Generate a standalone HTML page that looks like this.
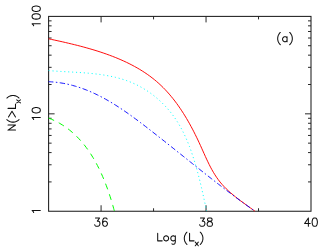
<!DOCTYPE html>
<html><head><meta charset="utf-8"><title>N(&gt;Lx) vs Log(Lx)</title>
<style>
html,body{margin:0;padding:0;background:#fff;font-family:"Liberation Sans",sans-serif;}
svg{display:block}
</style></head>
<body>
<svg width="327" height="249" viewBox="0 0 327 249">
<rect x="0" y="0" width="327" height="249" fill="#ffffff"/>
<rect x="48.60" y="16.40" width="262.40" height="194.85" fill="none" stroke="#1e1e1e" stroke-width="1.05"/>
<path d="M101.08 211.25 v-6.00 M101.08 16.40 v6.00 M153.56 211.25 v-3.00 M153.56 16.40 v3.00 M206.04 211.25 v-6.00 M206.04 16.40 v6.00 M258.52 211.25 v-3.00 M258.52 16.40 v3.00 M48.60 181.92 h3.00 M311.00 181.92 h-3.00 M48.60 164.77 h3.00 M311.00 164.77 h-3.00 M48.60 152.59 h3.00 M311.00 152.59 h-3.00 M48.60 143.15 h3.00 M311.00 143.15 h-3.00 M48.60 135.44 h3.00 M311.00 135.44 h-3.00 M48.60 128.92 h3.00 M311.00 128.92 h-3.00 M48.60 123.27 h3.00 M311.00 123.27 h-3.00 M48.60 118.28 h3.00 M311.00 118.28 h-3.00 M48.60 113.83 h6.00 M311.00 113.83 h-6.00 M48.60 84.50 h3.00 M311.00 84.50 h-3.00 M48.60 67.34 h3.00 M311.00 67.34 h-3.00 M48.60 55.17 h3.00 M311.00 55.17 h-3.00 M48.60 45.73 h3.00 M311.00 45.73 h-3.00 M48.60 38.01 h3.00 M311.00 38.01 h-3.00 M48.60 31.49 h3.00 M311.00 31.49 h-3.00 M48.60 25.84 h3.00 M311.00 25.84 h-3.00 M48.60 20.86 h3.00 M311.00 20.86 h-3.00" fill="none" stroke="#1e1e1e" stroke-width="0.95"/>
<path d="M48.60 70.60 C49.10 70.64 50.58 70.76 51.58 70.83 C52.57 70.91 53.57 70.98 54.57 71.05 C55.57 71.12 56.58 71.18 57.58 71.24 C58.59 71.31 59.60 71.37 60.61 71.43 C61.62 71.49 62.64 71.54 63.65 71.60 C64.67 71.66 65.68 71.71 66.70 71.77 C67.72 71.83 68.74 71.88 69.76 71.94 C70.79 72.00 71.81 72.05 72.83 72.11 C73.86 72.17 74.88 72.23 75.91 72.29 C76.93 72.35 77.96 72.42 78.98 72.49 C80.01 72.55 81.03 72.62 82.06 72.70 C83.08 72.77 84.11 72.85 85.13 72.93 C86.16 73.01 87.18 73.09 88.21 73.18 C89.23 73.27 90.25 73.37 91.27 73.47 C92.29 73.57 93.31 73.67 94.33 73.79 C95.35 73.90 96.37 74.02 97.38 74.14 C98.39 74.27 99.41 74.40 100.42 74.54 C101.43 74.68 102.44 74.83 103.44 74.98 C104.45 75.14 105.45 75.31 106.45 75.48 C107.45 75.65 108.45 75.84 109.44 76.03 C110.43 76.22 111.42 76.42 112.41 76.64 C113.40 76.85 114.38 77.07 115.36 77.31 C116.34 77.54 117.31 77.79 118.28 78.05 C119.25 78.31 120.22 78.58 121.18 78.86 C122.14 79.14 123.10 79.44 124.05 79.74 C125.00 80.05 125.94 80.37 126.88 80.71 C127.83 81.05 128.76 81.40 129.69 81.76 C130.62 82.13 131.54 82.50 132.46 82.90 C133.38 83.29 134.29 83.70 135.20 84.13 C136.10 84.56 137.00 85.00 137.89 85.45 C138.78 85.90 139.67 86.37 140.55 86.86 C141.43 87.34 142.30 87.84 143.16 88.35 C144.02 88.86 144.88 89.39 145.73 89.93 C146.57 90.46 147.42 91.02 148.25 91.58 C149.08 92.15 149.90 92.73 150.72 93.32 C151.53 93.91 152.34 94.51 153.14 95.13 C153.94 95.74 154.72 96.37 155.50 97.01 C156.28 97.65 157.05 98.30 157.81 98.96 C158.58 99.62 159.33 100.30 160.07 100.98 C160.81 101.67 161.54 102.37 162.26 103.07 C162.98 103.78 163.69 104.50 164.39 105.22 C165.09 105.95 165.78 106.69 166.46 107.44 C167.14 108.19 167.81 108.94 168.47 109.71 C169.12 110.48 169.77 111.25 170.40 112.04 C171.03 112.82 171.66 113.62 172.27 114.42 C172.88 115.23 173.47 116.04 174.06 116.86 C174.64 117.68 175.22 118.51 175.78 119.34 C176.34 120.18 176.89 121.02 177.42 121.87 C177.96 122.73 178.48 123.58 179.00 124.45 C179.51 125.32 180.01 126.19 180.51 127.07 C181.00 127.95 181.48 128.84 181.95 129.73 C182.42 130.62 182.88 131.52 183.33 132.43 C183.78 133.33 184.22 134.24 184.65 135.16 C185.08 136.08 185.51 137.00 185.92 137.93 C186.33 138.85 186.74 139.78 187.13 140.72 C187.53 141.66 187.92 142.60 188.30 143.55 C188.68 144.49 189.05 145.44 189.41 146.40 C189.78 147.35 190.14 148.31 190.49 149.27 C190.84 150.24 191.18 151.20 191.52 152.17 C191.85 153.14 192.18 154.11 192.51 155.09 C192.83 156.06 193.15 157.04 193.46 158.02 C193.78 159.00 194.09 159.99 194.39 160.97 C194.69 161.96 194.99 162.94 195.28 163.93 C195.57 164.92 195.86 165.91 196.15 166.90 C196.43 167.89 196.71 168.89 196.98 169.88 C197.26 170.88 197.53 171.87 197.79 172.87 C198.06 173.86 198.32 174.86 198.58 175.85 C198.84 176.85 199.09 177.85 199.34 178.84 C199.59 179.84 199.84 180.83 200.08 181.83 C200.33 182.82 200.57 183.82 200.81 184.81 C201.04 185.80 201.28 186.80 201.51 187.79 C201.74 188.78 201.97 189.77 202.19 190.75 C202.42 191.74 202.64 192.73 202.86 193.71 C203.08 194.70 203.30 195.68 203.51 196.66 C203.73 197.63 203.94 198.61 204.15 199.58 C204.36 200.56 204.57 201.53 204.78 202.50 C204.98 203.46 205.19 204.43 205.39 205.39 C205.60 206.35 205.80 207.30 206.00 208.25 C206.20 209.21 206.50 210.62 206.60 211.10" fill="none" stroke="#00ffff" stroke-width="0.95" stroke-dasharray="1.1 2.82" stroke-dashoffset="0"/>
<path d="M48.60 118.10 C49.09 118.30 50.56 118.87 51.52 119.27 C52.48 119.68 53.42 120.11 54.35 120.55 C55.28 120.99 56.20 121.45 57.11 121.93 C58.01 122.40 58.91 122.90 59.78 123.40 C60.66 123.91 61.53 124.43 62.38 124.97 C63.24 125.51 64.08 126.06 64.91 126.63 C65.73 127.19 66.55 127.78 67.35 128.37 C68.16 128.97 68.95 129.58 69.73 130.20 C70.51 130.82 71.27 131.46 72.03 132.11 C72.78 132.76 73.53 133.42 74.26 134.10 C74.99 134.77 75.71 135.46 76.42 136.16 C77.13 136.86 77.83 137.57 78.51 138.29 C79.20 139.01 79.88 139.75 80.54 140.49 C81.21 141.24 81.86 141.99 82.50 142.76 C83.15 143.52 83.78 144.30 84.40 145.08 C85.02 145.87 85.64 146.67 86.24 147.47 C86.84 148.27 87.43 149.09 88.01 149.91 C88.59 150.73 89.16 151.56 89.73 152.40 C90.29 153.24 90.84 154.09 91.38 154.94 C91.93 155.80 92.46 156.66 92.98 157.53 C93.51 158.40 94.02 159.28 94.53 160.16 C95.03 161.04 95.53 161.93 96.02 162.83 C96.50 163.72 96.98 164.63 97.45 165.53 C97.92 166.44 98.39 167.35 98.84 168.27 C99.29 169.19 99.74 170.11 100.18 171.04 C100.61 171.96 101.04 172.90 101.46 173.83 C101.88 174.77 102.30 175.71 102.70 176.65 C103.11 177.59 103.51 178.54 103.90 179.48 C104.29 180.43 104.67 181.38 105.05 182.34 C105.42 183.29 105.79 184.25 106.15 185.21 C106.51 186.16 106.87 187.12 107.22 188.08 C107.57 189.04 107.91 190.01 108.24 190.97 C108.58 191.93 108.90 192.89 109.23 193.86 C109.55 194.82 109.87 195.78 110.18 196.75 C110.49 197.71 110.79 198.67 111.09 199.64 C111.39 200.60 111.68 201.56 111.96 202.52 C112.25 203.48 112.53 204.44 112.81 205.39 C113.08 206.35 113.35 207.30 113.62 208.25 C113.88 209.20 114.27 210.62 114.40 211.10" fill="none" stroke="#00ff00" stroke-width="1.00" stroke-dasharray="6.0 5.2" stroke-dashoffset="0"/>
<path d="M48.60 38.80 C49.07 38.90 50.46 39.20 51.39 39.40 C52.33 39.60 53.26 39.80 54.21 40.01 C55.15 40.21 56.09 40.42 57.04 40.63 C57.99 40.83 58.95 41.05 59.90 41.26 C60.86 41.47 61.81 41.69 62.78 41.90 C63.74 42.12 64.70 42.34 65.67 42.57 C66.63 42.79 67.60 43.02 68.57 43.25 C69.54 43.47 70.51 43.71 71.49 43.94 C72.46 44.18 73.44 44.42 74.41 44.66 C75.39 44.90 76.37 45.14 77.35 45.39 C78.33 45.64 79.31 45.89 80.29 46.15 C81.27 46.41 82.25 46.67 83.23 46.93 C84.21 47.20 85.20 47.47 86.18 47.74 C87.16 48.01 88.14 48.29 89.12 48.57 C90.10 48.85 91.08 49.14 92.06 49.43 C93.04 49.72 94.02 50.01 95.00 50.31 C95.98 50.61 96.96 50.92 97.93 51.23 C98.91 51.54 99.88 51.86 100.86 52.18 C101.83 52.50 102.80 52.83 103.77 53.16 C104.74 53.49 105.70 53.83 106.67 54.17 C107.63 54.51 108.59 54.86 109.55 55.22 C110.51 55.57 111.47 55.93 112.42 56.30 C113.37 56.67 114.33 57.04 115.27 57.42 C116.22 57.80 117.16 58.19 118.10 58.58 C119.04 58.98 119.98 59.38 120.91 59.79 C121.84 60.19 122.77 60.61 123.69 61.03 C124.61 61.45 125.53 61.88 126.44 62.31 C127.36 62.75 128.26 63.19 129.17 63.64 C130.07 64.09 130.97 64.55 131.86 65.01 C132.75 65.48 133.64 65.95 134.52 66.44 C135.40 66.92 136.28 67.41 137.15 67.90 C138.02 68.40 138.88 68.91 139.74 69.42 C140.60 69.94 141.45 70.46 142.29 70.99 C143.13 71.52 143.97 72.06 144.80 72.61 C145.63 73.16 146.45 73.72 147.26 74.28 C148.08 74.85 148.89 75.43 149.68 76.01 C150.48 76.60 151.27 77.19 152.06 77.80 C152.84 78.40 153.62 79.01 154.38 79.64 C155.15 80.26 155.91 80.89 156.65 81.53 C157.40 82.18 158.14 82.83 158.87 83.49 C159.61 84.15 160.33 84.83 161.04 85.51 C161.76 86.19 162.46 86.88 163.16 87.58 C163.86 88.28 164.54 88.99 165.23 89.70 C165.91 90.42 166.58 91.14 167.24 91.88 C167.91 92.61 168.57 93.35 169.22 94.10 C169.87 94.85 170.51 95.60 171.14 96.37 C171.77 97.13 172.40 97.90 173.02 98.68 C173.64 99.46 174.25 100.24 174.86 101.04 C175.46 101.83 176.06 102.63 176.65 103.43 C177.24 104.24 177.82 105.05 178.40 105.87 C178.98 106.68 179.55 107.51 180.11 108.34 C180.67 109.16 181.23 110.00 181.78 110.84 C182.33 111.68 182.88 112.52 183.41 113.37 C183.95 114.22 184.48 115.08 185.01 115.94 C185.53 116.79 186.05 117.66 186.57 118.53 C187.08 119.39 187.59 120.27 188.09 121.14 C188.59 122.02 189.09 122.90 189.58 123.78 C190.07 124.66 190.56 125.55 191.04 126.44 C191.52 127.33 192.00 128.22 192.47 129.11 C192.94 130.01 193.40 130.91 193.86 131.81 C194.32 132.71 194.78 133.61 195.23 134.52 C195.68 135.42 196.13 136.33 196.57 137.24 C197.01 138.14 197.45 139.05 197.88 139.96 C198.31 140.88 198.74 141.79 199.17 142.70 C199.59 143.62 200.01 144.53 200.43 145.44 C200.84 146.36 201.26 147.27 201.67 148.19 C202.08 149.10 202.49 150.02 202.89 150.93 C203.30 151.85 203.71 152.76 204.12 153.67 C204.52 154.58 204.93 155.49 205.35 156.40 C205.76 157.30 206.17 158.21 206.59 159.11 C207.01 160.01 207.43 160.91 207.86 161.80 C208.29 162.69 208.72 163.58 209.16 164.47 C209.61 165.35 210.05 166.23 210.51 167.11 C210.97 167.98 211.44 168.85 211.92 169.71 C212.40 170.57 212.88 171.43 213.39 172.27 C213.89 173.12 214.40 173.96 214.93 174.79 C215.46 175.63 216.00 176.45 216.55 177.27 C217.11 178.08 217.68 178.89 218.27 179.69 C218.86 180.49 219.47 181.27 220.09 182.05 C220.72 182.83 221.36 183.60 222.03 184.35 C222.69 185.11 223.37 185.85 224.07 186.59 C224.77 187.33 225.49 188.05 226.22 188.77 C226.95 189.48 227.70 190.19 228.46 190.88 C229.21 191.58 229.98 192.27 230.76 192.94 C231.54 193.62 232.33 194.29 233.13 194.95 C233.93 195.61 234.73 196.26 235.54 196.91 C236.35 197.55 237.17 198.19 237.99 198.82 C238.81 199.45 239.63 200.07 240.45 200.68 C241.27 201.30 242.09 201.91 242.91 202.51 C243.73 203.11 244.55 203.70 245.37 204.29 C246.18 204.88 246.99 205.46 247.80 206.04 C248.60 206.62 249.40 207.19 250.19 207.76 C250.98 208.32 251.76 208.88 252.53 209.44 C253.30 210.00 254.42 210.82 254.80 211.10" fill="none" stroke="#ff0000" stroke-width="0.95"/>
<path d="M48.60 81.70 C49.12 81.73 50.67 81.80 51.70 81.88 C52.72 81.95 53.75 82.04 54.76 82.14 C55.78 82.24 56.79 82.35 57.80 82.48 C58.81 82.61 59.81 82.76 60.81 82.91 C61.80 83.07 62.80 83.24 63.78 83.42 C64.77 83.61 65.75 83.80 66.73 84.01 C67.71 84.22 68.69 84.44 69.66 84.67 C70.63 84.91 71.59 85.15 72.55 85.41 C73.51 85.67 74.47 85.94 75.42 86.22 C76.37 86.50 77.32 86.79 78.27 87.09 C79.21 87.40 80.15 87.71 81.09 88.03 C82.02 88.36 82.95 88.69 83.88 89.04 C84.81 89.39 85.73 89.74 86.65 90.11 C87.58 90.47 88.49 90.85 89.40 91.24 C90.32 91.62 91.23 92.02 92.13 92.42 C93.04 92.82 93.94 93.24 94.84 93.66 C95.74 94.08 96.63 94.51 97.52 94.95 C98.41 95.39 99.30 95.84 100.19 96.29 C101.07 96.75 101.95 97.21 102.83 97.68 C103.71 98.15 104.58 98.63 105.46 99.12 C106.33 99.60 107.20 100.10 108.06 100.59 C108.93 101.09 109.79 101.60 110.65 102.11 C111.51 102.63 112.37 103.15 113.23 103.67 C114.08 104.20 114.93 104.73 115.78 105.27 C116.63 105.80 117.48 106.35 118.32 106.89 C119.17 107.44 120.01 108.00 120.85 108.55 C121.69 109.11 122.53 109.67 123.36 110.24 C124.20 110.81 125.03 111.38 125.86 111.96 C126.69 112.53 127.52 113.11 128.34 113.70 C129.17 114.28 129.99 114.87 130.81 115.46 C131.63 116.05 132.45 116.65 133.27 117.25 C134.09 117.84 134.91 118.44 135.72 119.05 C136.54 119.65 137.35 120.26 138.16 120.86 C138.97 121.47 139.78 122.08 140.59 122.69 C141.39 123.30 142.20 123.92 143.00 124.53 C143.81 125.15 144.61 125.77 145.41 126.38 C146.22 127.00 147.02 127.62 147.82 128.24 C148.62 128.86 149.41 129.48 150.21 130.10 C151.01 130.72 151.80 131.34 152.60 131.96 C153.39 132.58 154.19 133.20 154.98 133.82 C155.77 134.44 156.56 135.07 157.35 135.69 C158.14 136.31 158.93 136.93 159.72 137.55 C160.51 138.18 161.30 138.80 162.09 139.42 C162.88 140.05 163.66 140.67 164.45 141.29 C165.23 141.92 166.02 142.54 166.80 143.16 C167.59 143.79 168.37 144.41 169.15 145.03 C169.94 145.66 170.72 146.28 171.50 146.90 C172.28 147.53 173.07 148.15 173.85 148.78 C174.63 149.40 175.41 150.02 176.19 150.65 C176.97 151.27 177.75 151.90 178.53 152.52 C179.31 153.14 180.09 153.77 180.87 154.39 C181.65 155.01 182.43 155.64 183.21 156.26 C183.99 156.88 184.76 157.51 185.54 158.13 C186.32 158.75 187.10 159.38 187.88 160.00 C188.66 160.62 189.44 161.24 190.22 161.87 C190.99 162.49 191.77 163.11 192.55 163.73 C193.33 164.35 194.11 164.98 194.89 165.60 C195.67 166.22 196.45 166.84 197.23 167.46 C198.01 168.08 198.79 168.70 199.57 169.32 C200.35 169.94 201.13 170.56 201.91 171.18 C202.69 171.80 203.47 172.42 204.25 173.04 C205.03 173.65 205.82 174.27 206.60 174.89 C207.38 175.51 208.17 176.12 208.95 176.74 C209.73 177.36 210.52 177.97 211.31 178.59 C212.09 179.20 212.88 179.82 213.66 180.43 C214.45 181.05 215.24 181.66 216.03 182.27 C216.82 182.89 217.60 183.50 218.39 184.11 C219.19 184.72 219.98 185.34 220.77 185.95 C221.56 186.56 222.35 187.17 223.15 187.78 C223.94 188.38 224.74 188.99 225.53 189.60 C226.33 190.21 227.13 190.82 227.93 191.42 C228.72 192.03 229.52 192.63 230.32 193.24 C231.13 193.84 231.93 194.45 232.73 195.05 C233.54 195.65 234.34 196.25 235.15 196.86 C235.95 197.46 236.76 198.06 237.57 198.66 C238.38 199.26 239.19 199.85 240.00 200.45 C240.81 201.05 241.63 201.65 242.44 202.24 C243.26 202.84 244.08 203.43 244.89 204.03 C245.71 204.62 246.53 205.21 247.35 205.80 C248.18 206.40 249.00 206.99 249.83 207.58 C250.65 208.16 251.48 208.75 252.31 209.34 C253.14 209.93 254.39 210.81 254.80 211.10" fill="none" stroke="#0000ff" stroke-width="0.90" stroke-dasharray="5.4 2.45 1.5 2.45" stroke-dashoffset="0.6"/>
<path d="M95.45 217.95 L99.58 217.95 L97.33 221.13 L98.45 221.13 L99.20 221.53 L99.58 221.93 L99.95 223.12 L99.95 223.91 L99.58 225.11 L98.83 225.90 L97.70 226.30 L96.58 226.30 L95.45 225.90 L95.08 225.50 L94.70 224.71 M107.08 219.14 L106.70 218.35 L105.58 217.95 L104.83 217.95 L103.70 218.35 L102.95 219.54 L102.58 221.53 L102.58 223.52 L102.95 225.11 L103.70 225.90 L104.83 226.30 L105.20 226.30 L106.33 225.90 L107.08 225.11 L107.45 223.91 L107.45 223.52 L107.08 222.32 L106.33 221.53 L105.20 221.13 L104.83 221.13 L103.70 221.53 L102.95 222.32 L102.58 223.52 M200.41 217.95 L204.54 217.95 L202.29 221.13 L203.41 221.13 L204.16 221.53 L204.54 221.93 L204.91 223.12 L204.91 223.91 L204.54 225.11 L203.79 225.90 L202.66 226.30 L201.54 226.30 L200.41 225.90 L200.04 225.50 L199.66 224.71 M209.04 217.95 L207.91 218.35 L207.54 219.14 L207.54 219.94 L207.91 220.73 L208.66 221.13 L210.16 221.53 L211.29 221.93 L212.04 222.72 L212.41 223.52 L212.41 224.71 L212.04 225.50 L211.66 225.90 L210.54 226.30 L209.04 226.30 L207.91 225.90 L207.54 225.50 L207.16 224.71 L207.16 223.52 L207.54 222.72 L208.29 221.93 L209.41 221.53 L210.91 221.13 L211.66 220.73 L212.04 219.94 L212.04 219.14 L211.66 218.35 L210.54 217.95 L209.04 217.95 M308.38 217.95 L304.62 223.52 L310.25 223.52 M308.38 217.95 L308.38 226.30 M314.38 217.95 L313.25 218.35 L312.50 219.54 L312.12 221.53 L312.12 222.72 L312.50 224.71 L313.25 225.90 L314.38 226.30 L315.12 226.30 L316.25 225.90 L317.00 224.71 L317.38 222.72 L317.38 221.53 L317.00 219.54 L316.25 218.35 L315.12 217.95 L314.38 217.95 M33.66 212.42 L33.27 211.64 L32.10 210.48 L40.30 210.48 M33.66 119.51 L33.27 118.74 L32.10 117.58 L40.30 117.58 M32.10 110.63 L32.49 111.79 L33.66 112.56 L35.61 112.95 L36.79 112.95 L38.74 112.56 L39.91 111.79 L40.30 110.63 L40.30 109.86 L39.91 108.70 L38.74 107.92 L36.79 107.54 L35.61 107.54 L33.66 107.92 L32.49 108.70 L32.10 109.86 L32.10 110.63 M33.66 25.70 L33.27 24.93 L32.10 23.77 L40.30 23.77 M32.10 16.82 L32.49 17.97 L33.66 18.75 L35.61 19.13 L36.79 19.13 L38.74 18.75 L39.91 17.97 L40.30 16.82 L40.30 16.04 L39.91 14.88 L38.74 14.11 L36.79 13.73 L35.61 13.73 L33.66 14.11 L32.49 14.88 L32.10 16.04 L32.10 16.82 M32.10 9.09 L32.49 10.25 L33.66 11.02 L35.61 11.41 L36.79 11.41 L38.74 11.02 L39.91 10.25 L40.30 9.09 L40.30 8.32 L39.91 7.16 L38.74 6.39 L36.79 6.00 L35.61 6.00 L33.66 6.39 L32.49 7.16 L32.10 8.32 L32.10 9.09 M157.69 233.39 L157.69 240.85 M157.69 240.85 L162.19 240.85 M165.57 235.88 L164.82 236.23 L164.07 236.94 L163.69 238.01 L163.69 238.72 L164.07 239.78 L164.82 240.50 L165.57 240.85 L166.69 240.85 L167.44 240.50 L168.19 239.78 L168.57 238.72 L168.57 238.01 L168.19 236.94 L167.44 236.23 L166.69 235.88 L165.57 235.88 M175.32 235.88 L175.32 241.84 L174.94 243.34 L174.57 243.83 L173.82 244.33 L172.69 244.33 L171.94 243.83 M175.32 236.94 L174.57 236.23 L173.82 235.88 L172.69 235.88 L171.94 236.23 L171.19 236.94 L170.82 238.01 L170.82 238.72 L171.19 239.78 L171.94 240.50 L172.69 240.85 L173.82 240.85 L174.57 240.50 L175.32 239.78 M186.94 232.23 L186.19 232.99 L185.44 234.13 L184.69 235.65 L184.32 237.55 L184.32 239.06 L184.69 240.96 L185.44 242.48 L186.19 243.62 L186.94 244.38 M189.57 233.39 L189.57 240.85 M189.57 240.85 L194.07 240.85 M195.27 242.11 L198.33 245.78 M198.33 242.11 L195.27 245.78 M200.28 232.23 L201.03 232.99 L201.78 234.13 L202.53 235.65 L202.91 237.55 L202.91 239.06 L202.53 240.96 L201.78 242.48 L201.03 243.62 L200.28 244.38 M8.04 130.09 L15.50 130.09 M8.04 130.09 L15.50 125.03 M8.04 125.03 L15.50 125.03 M6.88 119.60 L7.64 120.32 L8.78 121.05 L10.30 121.77 L12.20 122.13 L13.71 122.13 L15.61 121.77 L17.13 121.05 L18.27 120.32 L19.03 119.60 M8.47 117.07 L11.99 111.28 L15.50 117.07 M8.04 108.38 L15.50 108.38 M15.50 108.38 L15.50 104.04 M16.76 102.87 L20.43 99.93 M16.76 99.93 L20.43 102.87 M6.88 98.04 L7.64 97.32 L8.78 96.59 L10.30 95.87 L12.20 95.51 L13.71 95.51 L15.61 95.87 L17.13 96.59 L18.27 97.32 L19.03 98.04 M280.31 32.47 L279.56 33.23 L278.81 34.37 L278.06 35.89 L277.69 37.79 L277.69 39.31 L278.06 41.21 L278.81 42.73 L279.56 43.87 L280.31 44.62 M287.06 36.73 L287.06 41.70 M287.06 37.80 L286.31 37.09 L285.56 36.73 L284.44 36.73 L283.69 37.09 L282.94 37.80 L282.56 38.86 L282.56 39.57 L282.94 40.64 L283.69 41.35 L284.44 41.70 L285.56 41.70 L286.31 41.35 L287.06 40.64 M289.69 32.47 L290.44 33.23 L291.19 34.37 L291.94 35.89 L292.31 37.79 L292.31 39.31 L291.94 41.21 L291.19 42.73 L290.44 43.87 L289.69 44.62" fill="none" stroke="#101010" stroke-width="1.05" stroke-linecap="round" stroke-linejoin="round"/>
</svg>
</body></html>
